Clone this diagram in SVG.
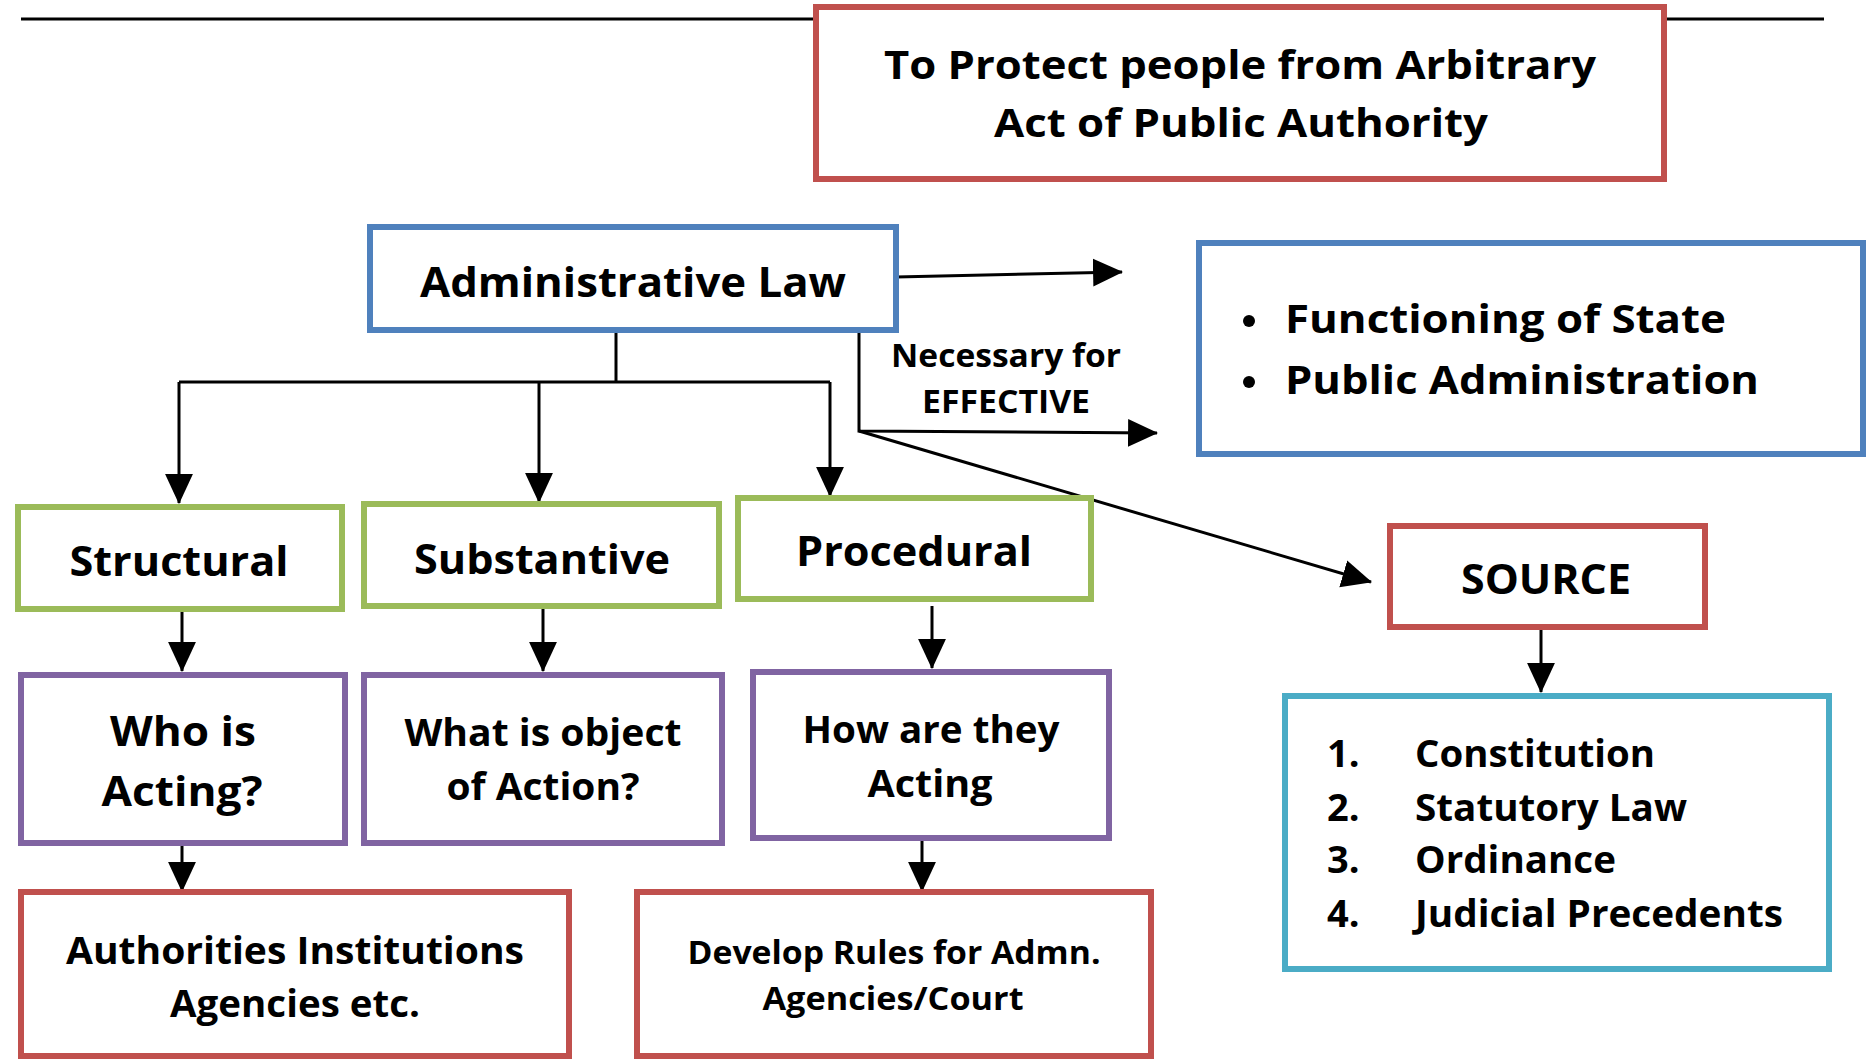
<svg xmlns="http://www.w3.org/2000/svg" width="1868" height="1059" viewBox="0 0 1868 1059">
<defs>
<marker id="ah" markerUnits="userSpaceOnUse" markerWidth="30" markerHeight="30" viewBox="0 0 28 26" refX="27" refY="13" orient="auto">
<path d="M0,0 L28,13 L0,26 z" fill="#000"/>
</marker>
</defs>
<style>
.box{fill:#fff;stroke-width:6}
.red{stroke:#C0504D}
.blue{stroke:#4F81BD}
.green{stroke:#9BBB59}
.purple{stroke:#8064A2}
.cyan{stroke:#4BACC6}
text{font-family:"Open Sans","Noto Sans","DejaVu Sans",sans-serif;font-weight:700;fill:#000;text-anchor:middle}
.l{text-anchor:start}
.ln{fill:none;stroke:#000;stroke-width:3}
</style>
<rect width="1868" height="1059" fill="#fff"/>
<g id="connectors">
<line class="ln" x1="21" y1="19" x2="816" y2="19"/>
<line class="ln" x1="1665" y1="19" x2="1824" y2="19"/>
<polyline class="ln" points="616,330 616,382"/>
<polyline class="ln" points="179,382 830,382"/>
<line class="ln" x1="179" y1="382" x2="179" y2="503" marker-end="url(#ah)"/>
<line class="ln" x1="539" y1="382" x2="539" y2="502" marker-end="url(#ah)"/>
<line class="ln" x1="830" y1="382" x2="830" y2="496" marker-end="url(#ah)"/>
<line class="ln" x1="896" y1="277" x2="1122" y2="272" marker-end="url(#ah)"/>
<polyline class="ln" points="859,330 859,431 1157,433" marker-end="url(#ah)"/>
<line class="ln" x1="859" y1="431" x2="1371" y2="582" marker-end="url(#ah)"/>
<line class="ln" x1="182" y1="609" x2="182" y2="671" marker-end="url(#ah)"/>
<line class="ln" x1="543" y1="606" x2="543" y2="671" marker-end="url(#ah)"/>
<line class="ln" x1="932" y1="606" x2="932" y2="668" marker-end="url(#ah)"/>
<line class="ln" x1="182" y1="843" x2="182" y2="891" marker-end="url(#ah)"/>
<line class="ln" x1="922" y1="838" x2="922" y2="891" marker-end="url(#ah)"/>
<line class="ln" x1="1541" y1="627" x2="1541" y2="692" marker-end="url(#ah)"/>
<text x="1006" y="367" font-size="32" textLength="230" lengthAdjust="spacingAndGlyphs">Necessary for</text>
<text x="1006" y="413" font-size="32" textLength="168" lengthAdjust="spacingAndGlyphs">EFFECTIVE</text>
</g>
<g id="protect">
<rect class="box red" x="816" y="7" width="848" height="172"/>
<text x="1240" y="79" font-size="40" textLength="712" lengthAdjust="spacingAndGlyphs">To Protect people from Arbitrary</text>
<text x="1241" y="137" font-size="40" textLength="494" lengthAdjust="spacingAndGlyphs">Act of Public Authority</text>
</g>
<g id="admin">
<rect class="box blue" x="370" y="227" width="526" height="103" stroke-width="7"/>
<text x="633" y="297" font-size="42" textLength="426" lengthAdjust="spacingAndGlyphs">Administrative Law</text>
</g>
<g id="functioning">
<rect class="box blue" x="1199" y="243" width="664" height="211" stroke-width="7"/>
<circle cx="1249" cy="321" r="6"/>
<circle cx="1249" cy="382" r="6"/>
<text class="l" x="1285" y="333" font-size="40" textLength="441" lengthAdjust="spacingAndGlyphs">Functioning of State</text>
<text class="l" x="1285" y="394" font-size="40" textLength="474" lengthAdjust="spacingAndGlyphs">Public Administration</text>
</g>
<g id="structural">
<rect class="box green" x="18" y="507" width="324" height="102"/>
<text x="179" y="576" font-size="41" textLength="219" lengthAdjust="spacingAndGlyphs">Structural</text>
</g>
<g id="substantive">
<rect class="box green" x="364" y="504" width="355" height="102"/>
<text x="542" y="574" font-size="41" textLength="256" lengthAdjust="spacingAndGlyphs">Substantive</text>
</g>
<g id="procedural">
<rect class="box green" x="738" y="498" width="353" height="101"/>
<text x="914" y="566" font-size="41" textLength="236" lengthAdjust="spacingAndGlyphs">Procedural</text>
</g>
<g id="who">
<rect class="box purple" x="21" y="675" width="324" height="168"/>
<text x="183" y="746" font-size="42" textLength="146" lengthAdjust="spacingAndGlyphs">Who is</text>
<text x="182" y="806" font-size="42" textLength="161" lengthAdjust="spacingAndGlyphs">Acting?</text>
</g>
<g id="what">
<rect class="box purple" x="364" y="675" width="358" height="168"/>
<text x="543" y="746" font-size="38" textLength="277" lengthAdjust="spacingAndGlyphs">What is object</text>
<text x="543" y="800" font-size="38" textLength="193" lengthAdjust="spacingAndGlyphs">of Action?</text>
</g>
<g id="how">
<rect class="box purple" x="753" y="672" width="356" height="166"/>
<text x="931" y="743" font-size="38" textLength="257" lengthAdjust="spacingAndGlyphs">How are they</text>
<text x="930" y="797" font-size="38" textLength="125" lengthAdjust="spacingAndGlyphs">Acting</text>
</g>
<g id="authorities">
<rect class="box red" x="21" y="892" width="548" height="164"/>
<text x="295" y="964" font-size="38" textLength="458" lengthAdjust="spacingAndGlyphs">Authorities Institutions</text>
<text x="295" y="1017" font-size="38" textLength="250" lengthAdjust="spacingAndGlyphs">Agencies etc.</text>
</g>
<g id="develop">
<rect class="box red" x="637" y="892" width="514" height="164"/>
<text x="894" y="964" font-size="32" textLength="413" lengthAdjust="spacingAndGlyphs">Develop Rules for Admn.</text>
<text x="893" y="1010" font-size="32" textLength="261" lengthAdjust="spacingAndGlyphs">Agencies/Court</text>
</g>
<g id="source">
<rect class="box red" x="1390" y="526" width="315" height="101"/>
<text x="1546" y="594" font-size="42" textLength="170" lengthAdjust="spacingAndGlyphs">SOURCE</text>
</g>
<g id="sources-list">
<rect class="box cyan" x="1285" y="696" width="544" height="273"/>
<text class="l" x="1327" y="767" font-size="38">1.</text>
<text class="l" x="1327" y="821" font-size="38">2.</text>
<text class="l" x="1327" y="873" font-size="38">3.</text>
<text class="l" x="1327" y="927" font-size="38">4.</text>
<text class="l" x="1415" y="767" font-size="38" textLength="240" lengthAdjust="spacingAndGlyphs">Constitution</text>
<text class="l" x="1415" y="821" font-size="38" textLength="272" lengthAdjust="spacingAndGlyphs">Statutory Law</text>
<text class="l" x="1415" y="873" font-size="38" textLength="201" lengthAdjust="spacingAndGlyphs">Ordinance</text>
<text class="l" x="1415" y="927" font-size="38" textLength="368" lengthAdjust="spacingAndGlyphs">Judicial Precedents</text>
</g>
</svg>
